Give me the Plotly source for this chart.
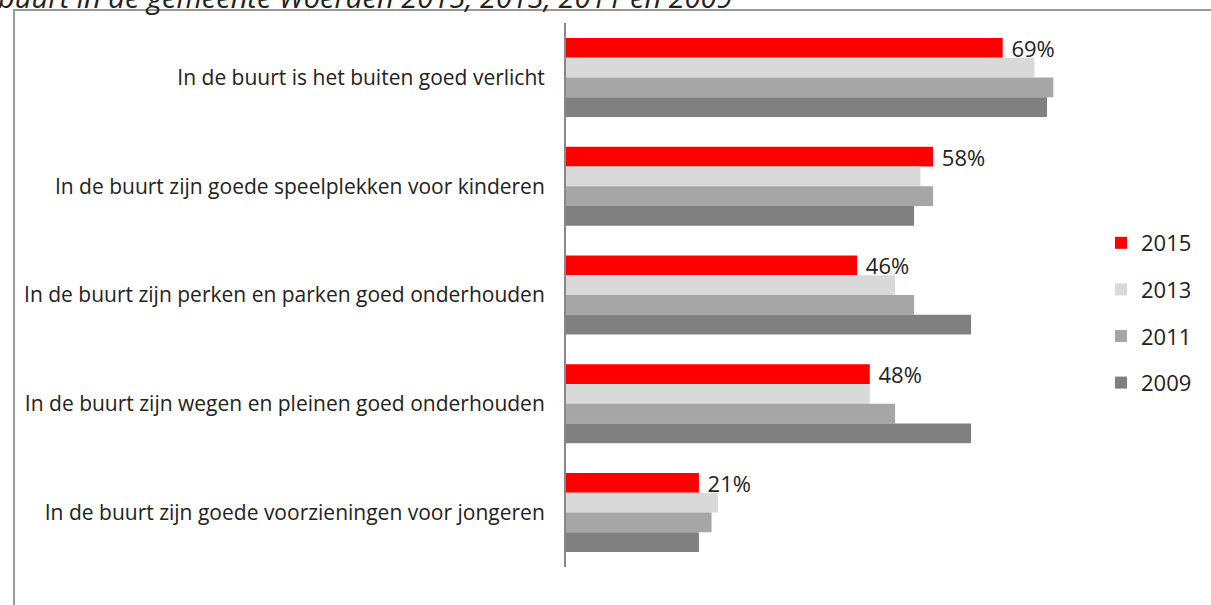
import plotly.graph_objects as go

categories = [
    "In de buurt is het buiten goed verlicht",
    "In de buurt zijn goede speelplekken voor kinderen",
    "In de buurt zijn perken en parken goed onderhouden",
    "In de buurt zijn wegen en pleinen goed onderhouden",
    "In de buurt zijn goede voorzieningen voor jongeren",
]
years = ["2015", "2013", "2011", "2009"]
v2015 = [69, 58, 46, 48, 21]
v2013 = [74, 56, 52, 48, 24]
v2011 = [77, 58, 55, 52, 23]
v2009 = [76, 55, 64, 64, 21]
series = [v2015, v2013, v2011, v2009]
colors = ["#FF0000", "#D9D9D9", "#A6A6A6", "#808080"]
title_text = "buurt in de gemeente Woerden 2015, 2013, 2011 en 2009"

W, H = 1211, 605
L, R, T, B = 566, 126, 23, 38
pw, ph = W - L - R, H - T - B

def px(x):
    return (x - L) / pw

def py(y):
    return (H - B - y) / ph

fig = go.Figure()
for i, (yr, vals, col) in enumerate(zip(years, series, colors)):
    kw = {}
    if i == 0:
        kw = dict(text=[f"\u00a0{v}%" for v in vals], textposition="outside",
                  textfont=dict(size=22, color="#222222", family="Open Sans"),
                  constraintext="none", cliponaxis=False)
    fig.add_trace(go.Bar(
        y=categories, x=vals, name=yr, orientation="h",
        marker=dict(color=col, line=dict(width=0)),
        legendgroup=yr, **kw))

fig.update_layout(
    width=W, height=H,
    margin=dict(l=L, r=R, t=T, b=B),
    paper_bgcolor="white", plot_bgcolor="white",
    barmode="group", bargap=0.274, bargroupgap=0,
    font=dict(family="Open Sans", color="#222222"),
    showlegend=True,
    legend=dict(x=px(1101), y=py(222), xanchor="left", yanchor="top",
                font=dict(size=22, family="Open Sans", color="#222222"),
                tracegroupgap=15, itemwidth=30, bgcolor="rgba(0,0,0,0)"),
    xaxis=dict(range=[0, 82], showgrid=False, zeroline=False,
               showticklabels=False, showline=False, fixedrange=True),
    yaxis=dict(autorange="reversed", showgrid=False, zeroline=False,
               showline=True, linecolor="#888888", linewidth=2,
               ticks="", ticklabelstandoff=15,
               tickfont=dict(size=21, family="Open Sans", color="#222222")),
    shapes=[dict(type="rect", xref="paper", yref="paper",
                 x0=px(14), x1=px(1240), y0=py(640), y1=py(10),
                 line=dict(color="#999999", width=2), layer="below")],
    annotations=[dict(text=title_text, xref="paper", yref="paper",
                      x=px(-4), y=py(-4), xanchor="left", yanchor="middle",
                      showarrow=False,
                      font=dict(size=29, family="Open Sans", style="italic",
                                color="#222222"))],
)

fig.write_html("out.html", config={"displayModeBar": False},
               post_script="document.body.style.margin='0';document.body.style.overflow='hidden';")
